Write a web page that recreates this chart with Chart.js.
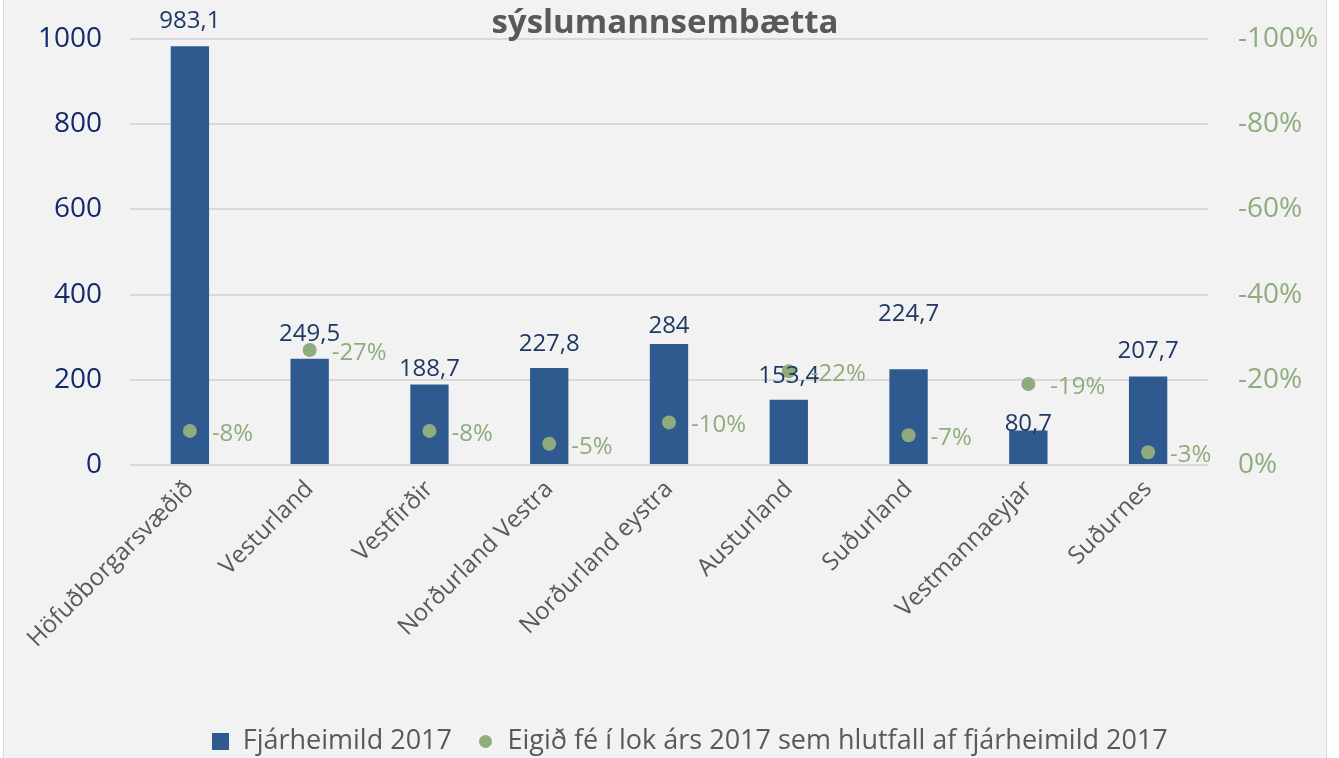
<!DOCTYPE html>
<html>
<head>
<meta charset="utf-8">
<script src="https://cdn.jsdelivr.net/npm/chart.js@4"></script>
<style>
  html, body { margin: 0; padding: 0; background: #ffffff; overflow: hidden; }
  #wrap { position: absolute; left: 3px; top: 0; width: 1322px; height: 770px;
          background: #f2f2f2; border-left: 1px solid #d9d9d9; border-right: 1px solid #d9d9d9; }
  canvas { display: block; }
</style>
</head>
<body>
<div id="wrap"><canvas id="myChart" width="1322" height="765"></canvas></div>
<script>
const categories = ['Höfuðborgarsvæðið', 'Vesturland', 'Vestfirðir', 'Norðurland Vestra', 'Norðurland eystra', 'Austurland', 'Suðurland', 'Vestmannaeyjar', 'Suðurnes'];
const fjarheimild = [983.1, 249.5, 188.7, 227.8, 284, 153.4, 224.7, 80.7, 207.7];
const eigidFeHlutfall = [-8, -27, -8, -5, -10, -22, -7, -19, -3];
const leftTicks = [0, 200, 400, 600, 800, 1000];
const rightTicks = [0, -20, -40, -60, -80, -100];

// bil (px) milli súlu og gildismerkis, eins og merkin voru færð til í fyrirmyndinni
const barLabelGap = [18, 18, 9, 17, 11, 17, 48, 0, 19];

const FONT = '"Open Sans", "Noto Sans", sans-serif';
const BLUE = '#2e5a8f';
const GREEN = '#8fac7c';
const NAVY = '#13296b';

// lítil tákn fyrir skýringuna
function makeMarker(kind, size) {
  const c = document.createElement('canvas');
  c.width = size; c.height = size;
  const g = c.getContext('2d');
  if (kind === 'rect') {
    g.fillStyle = BLUE;
    g.fillRect(0, 0, size, size);
  } else {
    g.fillStyle = GREEN;
    g.beginPath();
    g.arc(size / 2, size / 2, size / 2, 0, Math.PI * 2);
    g.fill();
  }
  return c;
}
const legendMarkers = [makeMarker('rect', 17), makeMarker('circle', 13)];

const labelsPlugin = {
  id: 'valueLabels',
  afterLayout(chart) {
    // skýringin er aðeins hægra megin við miðju í fyrirmyndinni
    chart.legend.left += 25;
    chart.legend.right += 25;
  },
  afterDatasetsDraw(chart) {
    const ctx = chart.ctx;
    ctx.save();
    const barMeta = chart.getDatasetMeta(0);
    ctx.font = '24px ' + FONT;
    ctx.fillStyle = '#203864';
    ctx.textAlign = 'center';
    ctx.textBaseline = 'alphabetic';
    barMeta.data.forEach((el, i) => {
      ctx.fillText(String(fjarheimild[i]).replace('.', ','), el.x, el.y - barLabelGap[i]);
    });
    const ptMeta = chart.getDatasetMeta(1);
    ctx.fillStyle = GREEN;
    ctx.textAlign = 'left';
    ctx.textBaseline = 'middle';
    ptMeta.data.forEach((el, i) => {
      ctx.fillText(eigidFeHlutfall[i] + '%', el.x + 22, el.y + 3);
    });
    ctx.restore();
  },
  afterDraw(chart) {
    const ctx = chart.ctx;
    ctx.save();
    ctx.font = 'bold 33px ' + FONT;
    ctx.fillStyle = '#595959';
    ctx.textAlign = 'center';
    ctx.textBaseline = 'alphabetic';
    ctx.fillText('sýslumannsembætta', chart.width / 2, 33);
    ctx.restore();
  }
};

const ctx = document.getElementById('myChart').getContext('2d');
const data = {
  labels: categories,
  datasets: [{
    type: 'bar',
    label: 'Fjárheimild 2017',
    data: fjarheimild,
    backgroundColor: BLUE,
    borderWidth: 0,
    barPercentage: 0.32,
    categoryPercentage: 1,
    yAxisID: 'y',
    order: 2
  },
  {
    type: 'line',
    label: 'Eigið fé í lok árs 2017 sem hlutfall af fjárheimild 2017',
    data: eigidFeHlutfall,
    showLine: false,
    pointRadius: 7,
    pointHoverRadius: 7,
    pointBackgroundColor: GREEN,
    pointBorderWidth: 0,
    backgroundColor: GREEN,
    borderColor: GREEN,
    yAxisID: 'y1',
    order: 1
  }]
};

const options = {
  responsive: false,
  animation: false,
  layout: { padding: { top: 39, left: 0, right: 0, bottom: 0 } },
  plugins: {
    title: { display: false },
    tooltip: { enabled: false },
    legend: {
      position: 'bottom',
      labels: {
        usePointStyle: true,
        boxWidth: 17,
        boxHeight: 17,
        padding: 25,
        color: '#595959',
        font: { family: FONT, size: 27 },
        sort: (a, b) => a.datasetIndex - b.datasetIndex,
        generateLabels(chart) {
          const items = Chart.defaults.plugins.legend.labels.generateLabels(chart);
          items.forEach(it => { it.pointStyle = legendMarkers[it.datasetIndex]; });
          return items;
        }
      }
    }
  },
  scales: {
    x: {
      grid: { display: false },
      border: { display: false },
      ticks: {
        color: '#595959',
        font: { family: FONT, size: 24 },
        minRotation: 45,
        maxRotation: 45,
        padding: 2
      },
      afterFit(scale) { scale.height = 238; }
    },
    y: {
      position: 'left',
      min: 0,
      max: 1000,
      afterBuildTicks(scale) { scale.ticks = leftTicks.map(v => ({ value: v })); },
      grid: { color: '#d9d9d9', lineWidth: 2, drawTicks: false },
      border: { display: false },
      ticks: {
        color: NAVY,
        font: { family: FONT, size: 28 },
        padding: 28,
        callback: v => String(v)
      },
      afterFit(scale) {
        scale.width = 126;
        scale.paddingTop = 10;
        scale.paddingBottom = 10;
      }
    },
    y1: {
      position: 'right',
      min: -100,
      max: 0,
      reverse: true,
      afterBuildTicks(scale) { scale.ticks = rightTicks.map(v => ({ value: v })); },
      grid: { drawOnChartArea: false, drawTicks: false },
      border: { display: false },
      ticks: {
        color: GREEN,
        font: { family: FONT, size: 28 },
        padding: 30,
        callback: v => v + '%'
      },
      afterFit(scale) {
        scale.width = 118;
        scale.paddingTop = 10;
        scale.paddingBottom = 10;
      }
    }
  }
};

const myChart = new Chart(ctx, {
  data: data,
  options: options,
  plugins: [labelsPlugin]
});
</script>
</body>
</html>
